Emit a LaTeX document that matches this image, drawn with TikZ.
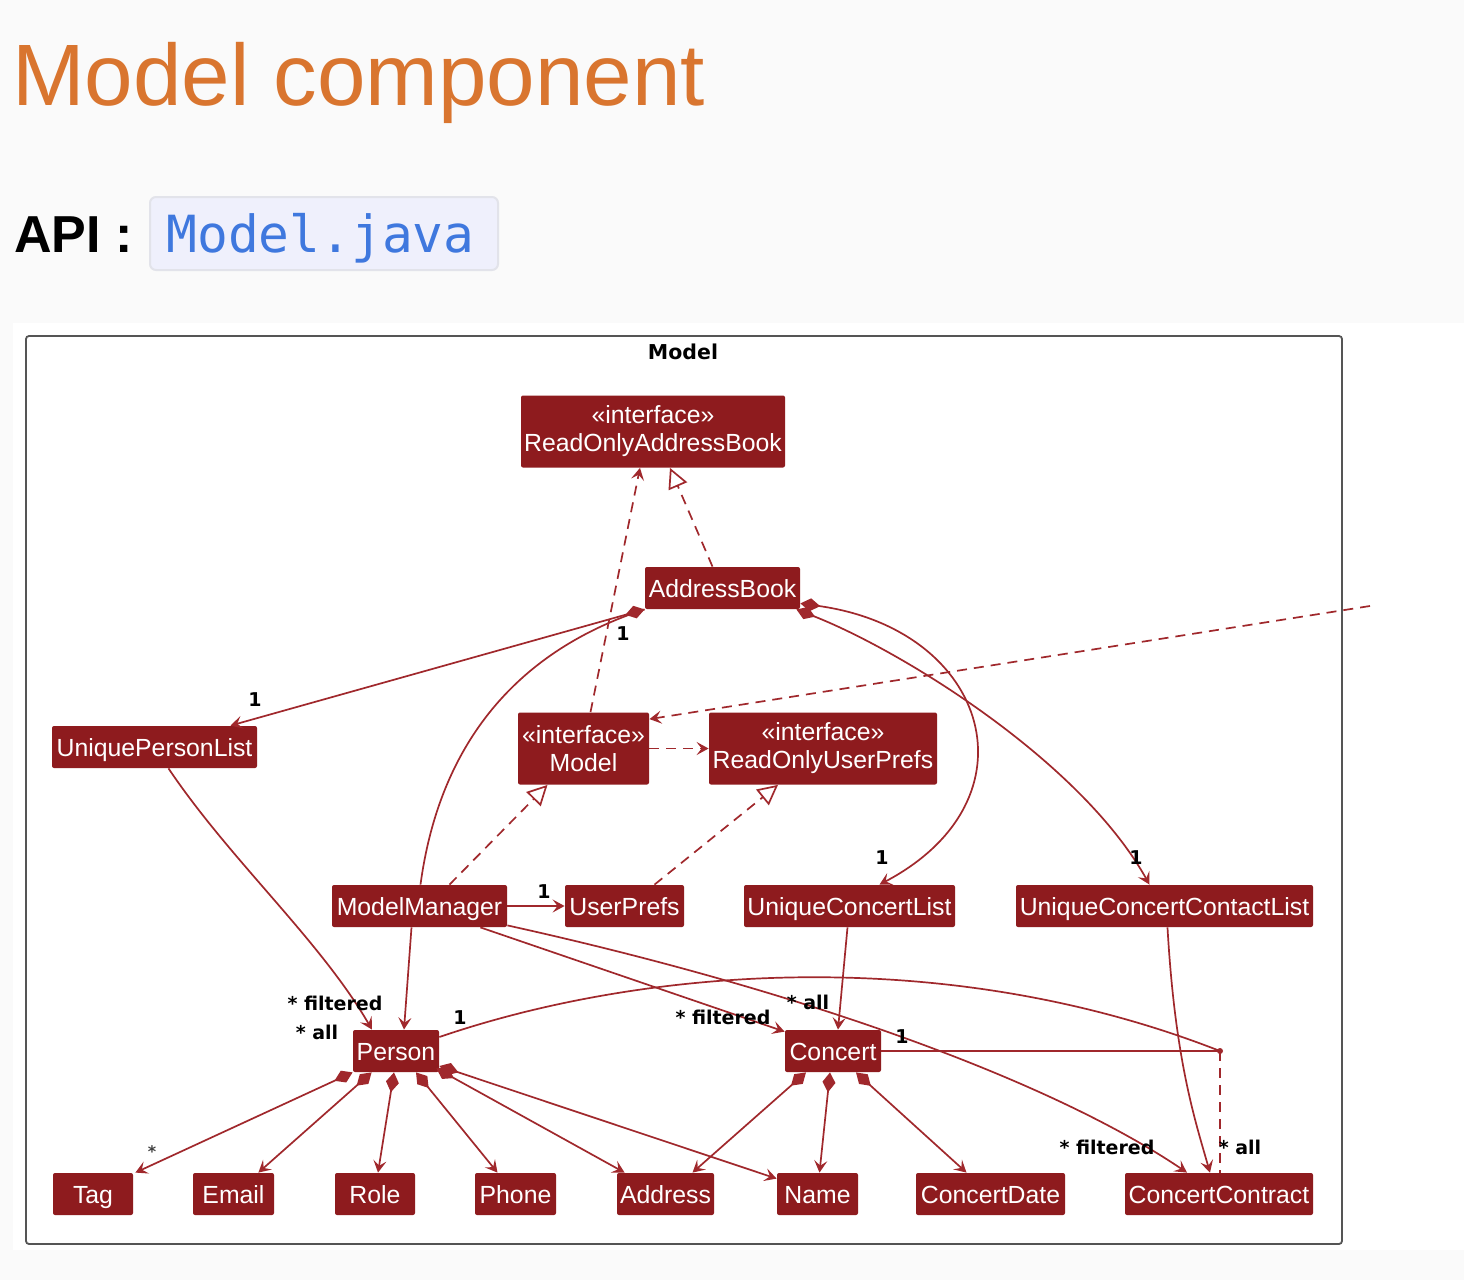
\documentclass[tikz,border=0pt]{standalone}
\usepackage{fontspec}
\setmainfont{Liberation Sans}
\newfontfamily\djv{DejaVu Sans}
\newfontfamily\djmono{DejaVu Sans Mono}
\usetikzlibrary{arrows.meta,calc}
\definecolor{nodered}{HTML}{8E1B1E}
\definecolor{linered}{HTML}{A0282C}
\definecolor{titleorange}{HTML}{D9752F}
\definecolor{codeblue}{HTML}{3F78DE}
\definecolor{codebg}{HTML}{EFF0FC}
\definecolor{codeborder}{HTML}{E2E3EA}
\definecolor{framegray}{HTML}{555555}
\definecolor{pagebg}{HTML}{FAFAFA}
\begin{document}
\begin{tikzpicture}[x=0.5pt,y=-0.5pt,
  cls/.style={fill=nodered,text=white,font=\fontsize{12.4}{14}\selectfont,inner xsep=1pt,inner ysep=0pt,
    minimum height=21pt,rounded corners=1pt,align=center,text height=9.5pt,text depth=0pt},
  iface/.style={fill=nodered,text=white,font=\fontsize{12.4}{14}\selectfont,inner xsep=1pt,inner ysep=0pt,
    minimum height=36pt,rounded corners=1pt,align=center},
  lbl/.style={font=\djv\bfseries\fontsize{9.5}{11}\selectfont,inner sep=0pt,text=black},
  edge/.style={draw=linered,line width=0.85pt},
  dep/.style={edge,dash pattern=on 5pt off 3.5pt,-{Stealth[length=6pt,width=6.5pt,inset=2.5pt]}},
  real/.style={edge,dash pattern=on 5pt off 3.5pt,-{Triangle[open,length=10pt,width=10pt,fill=white]}},
  assoc/.style={edge,-{Stealth[length=6pt,width=6.5pt,inset=2.5pt]}},
  comp/.style={edge,{Diamond[length=10pt,width=6.5pt]}-{Stealth[length=6pt,width=6.5pt,inset=2.5pt]}},
]
% background
\useasboundingbox (0,0) rectangle (1464,1280);
\fill[pagebg] (0,0) rectangle (1464,1280);
\fill[white] (13,323) rectangle (1464,1250);

% heading
\node[anchor=base west,text=titleorange,font=\fontsize{43.6}{50}\selectfont,inner sep=0pt] (title) at (11.6,105) {Model component};
\node[anchor=base west,text=black,font=\bfseries\fontsize{26}{30}\selectfont,inner sep=0pt] (api) at (14,252) {API :};
\node[draw=codeborder,line width=1pt,fill=codebg,rounded corners=3pt,minimum width=174pt,minimum height=36.5pt,inner sep=0pt] (codebox) at (324,233.5) {};
\node[anchor=base west,text=codeblue,font=\djmono\fontsize{25.6}{30}\selectfont,inner sep=0pt] (code) at (166,252) {Model.java};

% frame
\node[draw=framegray,line width=0.9pt,rounded corners=1.5pt,minimum width=658pt,minimum height=454pt,inner sep=0pt] (frame) at (684,790) {};
\node[font=\djv\bfseries\fontsize{10.25}{12}\selectfont,inner sep=0pt] (frametitle) at (683,352) {Model};

% classes
\node[iface,minimum width=132pt] (ROAB) at (653,431.5) {«interface»\\ReadOnlyAddressBook};
\node[cls,minimum width=77.5pt] (AB) at (722.5,588) {AddressBook};
\node[cls,minimum width=102.5pt] (UPL) at (154.5,747) {UniquePersonList};
\node[iface,minimum width=65.5pt] (Mdl) at (583.5,748.5) {«interface»\\Model};
\node[iface,minimum width=114pt] (ROUP) at (823,748.5) {«interface»\\ReadOnlyUserPrefs};
\node[cls,minimum width=87.5pt] (MM) at (419.5,906) {ModelManager};
\node[cls,minimum width=59.5pt] (UP) at (624.5,906) {UserPrefs};
\node[cls,minimum width=105.5pt] (UCL) at (849.5,906) {UniqueConcertList};
\node[cls,minimum width=148.5pt] (UCCL) at (1164.5,906) {UniqueConcertContactList};
\node[cls,minimum width=43pt] (Per) at (396,1051) {Person};
\node[cls,minimum width=48pt] (Con) at (833,1051) {Concert};
\node[cls,minimum width=40pt] (Tag) at (93,1194) {Tag};
\node[cls,minimum width=40.5pt] (Email) at (233.5,1194) {Email};
\node[cls,minimum width=40pt] (Role) at (375,1194) {Role};
\node[cls,minimum width=40.5pt] (Phone) at (515.5,1194) {Phone};
\node[cls,minimum width=48.5pt] (Addr) at (665.5,1194) {Address};
\node[cls,minimum width=40.5pt] (Name) at (817.5,1194) {Name};
\node[cls,minimum width=74.5pt] (CD) at (990.5,1194) {ConcertDate};
\node[cls,minimum width=94pt] (CC) at (1219,1194) {ConcertContract};

\coordinate (far) at (1370,606);
\coordinate (ac) at (1220,1051);

% upper edges
\draw[dep] ($(Mdl.north)+(7,0)$) -- ($(ROAB.south)+(-13,0)$);
\draw[real] ($(AB.north)+(-10,0)$) -- ($(ROAB.south)+(17,0)$);
\draw[edge] ($(MM.north)+(1,0)$) .. controls (440,740) and (520,650) .. (AB.south west);
\draw[comp] (AB.south west) -- ($(UPL.north)+(76,0)$);
\draw[dep] (Mdl.east) -- (ROUP.west);
\draw[real] ($(MM.north)+(30,0)$) -- ($(Mdl.south)+(-36,0)$);
\draw[real] ($(UP.north)+(30,0)$) -- ($(ROUP.south)+(-45,0)$);
\draw[assoc] (MM.east) -- (UP.west);
\draw[comp] ($(AB.south east)+(0,-6)$) .. controls (990,630) and (1040,800) .. ($(UCL.north)+(30,0)$);
\draw[comp] ($(AB.south east)+(-4,0)$) .. controls (900,650) and (1080,760) .. ($(UCCL.north)+(-15,0)$);
\draw[dep] (far) -- ($(Mdl.north east)+(0,7)$);

% middle edges
\draw[assoc] ($(UPL.south)+(14,0)$) .. controls (230,860) and (320,940) .. ($(Per.north)+(-24,0)$);
\draw[assoc] ($(MM.south)+(-8,0)$) -- ($(Per.north)+(8,0)$);
\draw[assoc] ($(MM.south east)+(-27,0)$) -- ($(Con.north west)+(0,2)$);
\draw[assoc] ($(UCL.south)+(-2,0)$) -- ($(Con.north)+(5,0)$);
\draw[assoc] ($(MM.south east)+(0,-2)$) .. controls (800,990) and (1050,1080) .. ($(CC.north)+(-32,0)$);
\draw[assoc] ($(UCCL.south)+(3,0)$) .. controls (1175,1060) and (1195,1120) .. ($(CC.north)+(-9,0)$);
\draw[edge] ($(Per.east)+(0,-14)$) .. controls (650,965) and (950,945) .. (ac);
\draw[edge] (Con.east) -- (ac);
\fill[linered] (ac) circle (1.5pt);
\draw[edge,dash pattern=on 5pt off 3.5pt] (ac) -- ($(CC.north)+(1,0)$);

% compositions
\draw[comp] ($(Per.south west)+(0,0)$) -- ($(Tag.north east)+(2,0)$);
\draw[comp] ($(Per.south west)+(19,0)$) -- ($(Email.north east)+(-16,0)$);
\draw[comp] ($(Per.south)+(-2,0)$) -- ($(Role.north)+(3,0)$);
\draw[comp] ($(Per.south)+(20,0)$) -- ($(Phone.north)+(-18,0)$);
\draw[comp] ($(Per.south east)+(-3,-4)$) -- ($(Addr.north west)+(8,0)$);
\draw[comp] ($(Per.east)+(0,15)$) -- ($(Name.north west)+(0,6)$);
\draw[comp] ($(Con.south)+(-27,0)$) -- ($(Addr.north)+(27,0)$);
\draw[comp] ($(Con.south)+(-3,0)$) -- ($(Name.north)+(2,0)$);
\draw[comp] ($(Con.south)+(23,0)$) -- ($(CD.north)+(-24,0)$);

% labels
\node[lbl] (l1) at (255,700) {1};
\node[lbl] (l2) at (623,634) {1};
\node[lbl] (l3) at (544,892) {1};
\node[lbl] (l4) at (882,858) {1};
\node[lbl] (l5) at (1136,858) {1};
\node[lbl] (l6) at (335,1003) {* filtered};
\node[lbl] (l7) at (317,1032) {* all};
\node[lbl] (l8) at (460,1018) {1};
\node[lbl] (l9) at (723,1017) {* filtered};
\node[lbl] (l10) at (808,1002) {* all};
\node[lbl] (l11) at (902,1037) {1};
\node[lbl] (l12) at (1107,1147) {* filtered};
\node[lbl] (l13) at (1240,1147) {* all};
\node[lbl,text=black!75,font=\djv\bfseries\fontsize{8}{9}\selectfont] (l14) at (152,1152) {*};
\end{tikzpicture}
\end{document}
